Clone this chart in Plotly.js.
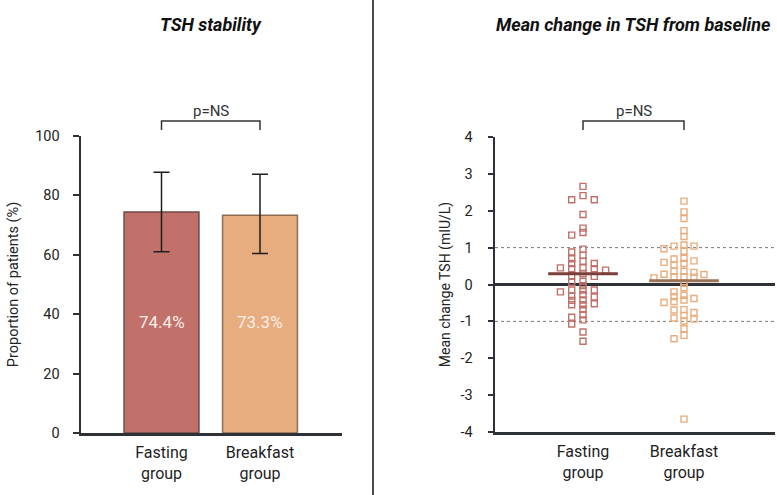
<!DOCTYPE html>
<html>
<head>
<meta charset="utf-8">
<script src="https://cdn.plot.ly/plotly-3.0.1.min.js"></script>
<style>
  html, body { margin: 0; padding: 0; background: #fff; }
  #chart { width: 777px; height: 495px; }
</style>
</head>
<body>
<div id="chart"></div>
<script>
// Groups
const groups = ['Fasting group', 'Breakfast group'];
const groupLabels = ['Fasting<br>group', 'Breakfast<br>group'];

// TSH stability: proportion of patients (%) with 95% CI
const stability = [74.4, 73.3];
const ciLow = [61.0, 60.4];
const ciHigh = [87.8, 87.1];
const stabilityTicks = [0, 20, 40, 60, 80, 100];

// Individual change in TSH from baseline (mIU/L)
const fastingChange = [2.66, 2.41, 2.30, 2.30, 1.90, 1.53, 1.41, 1.34, 0.96, 0.88,
  0.79, 0.70, 0.63, 0.57, 0.57, 0.43, 0.43, 0.45, 0.45, 0.39, 0.30, 0.22, 0.24,
  0.06, 0.09, -0.03, -0.15, -0.20, -0.15, -0.15, -0.31, -0.34, -0.28, -0.43,
  -0.42, -0.55, -0.55, -0.52, -0.67, -0.82, -0.89, -0.96, -1.07, -1.29, -1.54];
const breakfastChange = [2.26, 1.97, 1.79, 1.46, 1.30, 1.07, 1.04, 1.04, 0.97, 0.90,
  0.71, 0.69, 0.64, 0.60, 0.57, 0.52, 0.36, 0.36, 0.33, 0.28, 0.27, 0.21, 0.21,
  0.20, 0.18, 0.03, -0.09, -0.20, -0.29, -0.33, -0.38, -0.42, -0.46, -0.49,
  -0.68, -0.69, -0.76, -0.84, -0.91, -0.94, -0.99, -1.20, -1.38, -1.47, -3.65];
const meanChange = [0.29, 0.10];
const changeTicks = [-4, -3, -2, -1, 0, 1, 2, 3, 4];
const changeTickText = ['-4', '-3', '-2', '-1', '0', '1', '2', '3', '4'];

const pLabel = 'p=NS';

// colours
const fillCol = ['#c1706a', '#e8ad7e'];
const edgeCol = ['#6f4a46', '#8e6c52'];
const meanCol = ['#7b3e38', '#9c7356'];
const axisCol = '#2e3138';
const FONT = 'Roboto, "Open Sans", sans-serif';

// Dot-plot layout: greedy column assignment so markers do not pile up
function swarm(vals, step, thr) {
  const order = vals.map((v, i) => i).sort((a, b) => vals[b] - vals[a]);
  const placed = [];
  const cols = new Array(vals.length).fill(0);
  const tries = [0, -1, 1, -2, 2, -3, 3, -4, 4, -5, 5];
  order.forEach(i => {
    const v = vals[i];
    for (const c of tries) {
      if (!placed.some(p => p.c === c && Math.abs(p.v - v) < thr)) {
        cols[i] = c; placed.push({c, v}); break;
      }
    }
  });
  return cols.map(c => c * step);
}

const W = 777, H = 495;
// plot regions in pixels
const L = {x0: 81, x1: 342, y0: 136, y1: 433, c0: 161.5, c1: 260};
const R = {x0: 495, x1: 775, y0: 137, y1: 432, c0: 583, c1: 684};
function xr(p) { const s = p.c1 - p.c0; return [(p.x0 - p.c0) / s, (p.x1 - p.c0) / s]; }
const leftRange = xr(L), rightRange = xr(R);
const rightUnitPx = R.c1 - R.c0;

const traces = [];

// bars with CI
groups.forEach((g, i) => {
  traces.push({
    type: 'bar', x: [i], y: [stability[i]], width: 0.76,
    marker: {color: fillCol[i], line: {color: edgeCol[i], width: 1.5}},
    error_y: {type: 'data', symmetric: false,
      array: [ciHigh[i] - stability[i]], arrayminus: [stability[i] - ciLow[i]],
      color: '#1f1f1f', thickness: 1.5, width: 8},
    xaxis: 'x', yaxis: 'y', hoverinfo: 'skip', showlegend: false
  });
});

// individual points
[fastingChange, breakfastChange].forEach((vals, i) => {
  const step = (i === 0 ? 11.3 : 10) / rightUnitPx;
  const off = swarm(vals, step, 0.12);
  traces.push({
    type: 'scatter', mode: 'markers',
    x: vals.map((v, k) => i + off[k]), y: vals,
    marker: {symbol: 'square-open', size: 6, color: fillCol[i], line: {width: 1.4, color: fillCol[i]}},
    xaxis: 'x2', yaxis: 'y2', hoverinfo: 'skip', showlegend: false, cliponaxis: false
  });
});

// group means
meanChange.forEach((m, i) => {
  traces.push({
    type: 'scatter', mode: 'lines', x: [i - 0.345, i + 0.345], y: [m, m],
    line: {color: meanCol[i], width: 3},
    xaxis: 'x2', yaxis: 'y2', hoverinfo: 'skip', showlegend: false
  });
});

const py = v => 1 - v / H;
const px = v => v / W;

const layout = {
  width: W, height: H,
  margin: {l: 0, r: 0, t: 0, b: 0},
  paper_bgcolor: '#ffffff', plot_bgcolor: 'rgba(0,0,0,0)',
  font: {family: FONT, color: '#222', size: 14},
  showlegend: false,
  xaxis: {
    domain: [px(L.x0), px(L.x1)], range: leftRange, anchor: 'y',
    tickvals: [0, 1], ticktext: groupLabels, ticks: '',
    showline: true, linecolor: axisCol, linewidth: 2.5,
    showgrid: false, zeroline: false, fixedrange: true,
    tickfont: {size: 16, color: '#1e1e1e'}, ticklabelstandoff: 3
  },
  yaxis: {
    domain: [py(L.y1), py(L.y0)], range: [0, 100], anchor: 'x',
    tickvals: stabilityTicks, ticks: 'outside', ticklen: 6, tickwidth: 2,
    tickcolor: axisCol, showline: true, linecolor: axisCol, linewidth: 2.5,
    showgrid: false, zeroline: false, fixedrange: true,
    tickfont: {size: 14.5, color: '#222'}, ticklabelstandoff: 10,
    title: {text: 'Proportion of patients (%)', font: {size: 14.5, color: '#222'}, standoff: 13}
  },
  xaxis2: {
    domain: [px(R.x0), px(R.x1)], range: rightRange, anchor: 'y2',
    tickvals: [0, 1], ticktext: groupLabels, ticks: '',
    showline: true, linecolor: axisCol, linewidth: 2.5,
    showgrid: false, zeroline: false, fixedrange: true,
    tickfont: {size: 16, color: '#1e1e1e'}, ticklabelstandoff: 3
  },
  yaxis2: {
    domain: [py(R.y1), py(R.y0)], range: [-4, 4], anchor: 'x2',
    tickvals: changeTicks, ticktext: changeTickText, ticks: 'outside', ticklen: 5, tickwidth: 2,
    tickcolor: axisCol, showline: true, linecolor: axisCol, linewidth: 2.5,
    showgrid: false, zeroline: true, zerolinecolor: axisCol, zerolinewidth: 2.5,
    fixedrange: true,
    tickfont: {size: 14.5, color: '#222'}, ticklabelstandoff: 12,
    title: {text: 'Mean change TSH (mIU/L)', font: {size: 14, color: '#222'}, standoff: 7}
  },
  shapes: [
    // panel divider
    {type: 'line', xref: 'paper', yref: 'paper', x0: px(373), x1: px(373), y0: 0, y1: 1,
      line: {color: '#4a4a4a', width: 2}},
    // reference band at +/-1 mIU/L
    {type: 'line', xref: 'x2 domain', yref: 'y2', x0: 0, x1: 1, y0: 1, y1: 1,
      line: {color: '#777', width: 1, dash: 'dot'}, layer: 'below'},
    {type: 'line', xref: 'x2 domain', yref: 'y2', x0: 0, x1: 1, y0: -1, y1: -1,
      line: {color: '#777', width: 1, dash: 'dot'}, layer: 'below'},
    // significance brackets
    {type: 'path', xref: 'x', yref: 'paper',
      path: `M0,${py(130)} L0,${py(121)} L1,${py(121)} L1,${py(130)}`,
      line: {color: '#333', width: 1.5}},
    {type: 'path', xref: 'x2', yref: 'paper',
      path: `M0,${py(130)} L0,${py(121)} L1,${py(121)} L1,${py(130)}`,
      line: {color: '#333', width: 1.5}}
  ],
  annotations: [
    {text: '<b><i>TSH stability</i></b>', xref: 'paper', yref: 'paper', x: px(211), y: py(25),
      showarrow: false, font: {size: 18, color: '#111'}, xanchor: 'center', yanchor: 'middle'},
    {text: '<b><i>Mean change in TSH from baseline</i></b>', xref: 'paper', yref: 'paper',
      x: px(633), y: py(25), showarrow: false, font: {size: 18, color: '#111'},
      xanchor: 'center', yanchor: 'middle'},
    {text: pLabel, xref: 'x', yref: 'paper', x: 0.5, y: py(111), showarrow: false,
      font: {size: 15, color: '#333'}, xanchor: 'center', yanchor: 'middle'},
    {text: pLabel, xref: 'x2', yref: 'paper', x: 0.5, y: py(111), showarrow: false,
      font: {size: 15, color: '#333'}, xanchor: 'center', yanchor: 'middle'}
  ].concat(stability.map((v, i) => ({
    text: v.toFixed(1) + '%', xref: 'x', yref: 'y', x: i, y: 37.5, showarrow: false,
    font: {size: 17, color: '#fbeee8'}, xanchor: 'center', yanchor: 'middle'
  })))
};

Plotly.newPlot('chart', traces, layout, {staticPlot: true, displayModeBar: false});
</script>
</body>
</html>
